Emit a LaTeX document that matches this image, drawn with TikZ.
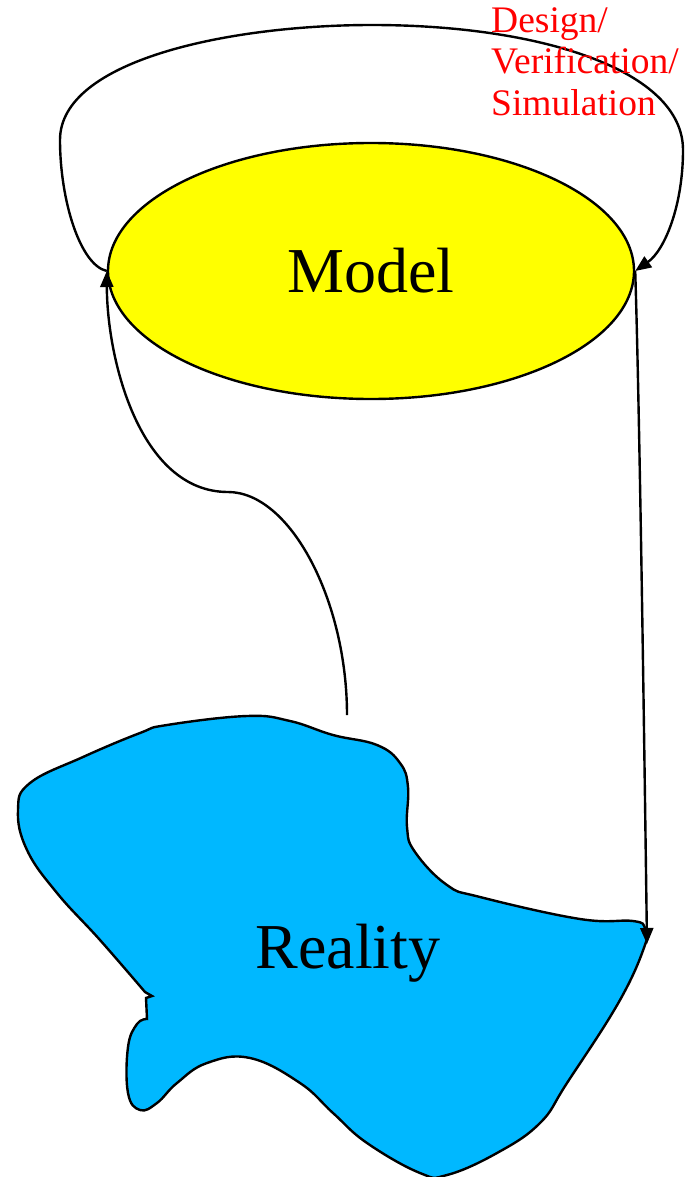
\documentclass[tikz,border=0pt]{standalone}
\usepackage{fontspec}
\setmainfont{Liberation Serif}
\usetikzlibrary{shapes.geometric,arrows.meta}
\definecolor{modelyellow}{RGB}{255,255,0}
\definecolor{realblue}{RGB}{0,184,255}
\begin{document}
\begin{tikzpicture}[x=1pt,y=-1pt,
  outline/.style={draw=black,line width=2.4pt},
  conn/.style={draw=black,line width=2.4pt,-{Triangle[length=16pt,width=13pt]}},
  bigtext/.style={font=\fontsize{64}{72}\selectfont},
  redtext/.style={text=red,font=\fontsize{37.5}{41.5}\selectfont,align=left,inner sep=0pt}]
\useasboundingbox (0,0) rectangle (686,1177);
% Reality blob
\path[outline,fill=realblue]
  plot[smooth,tension=0.7] coordinates {(147,1019) (137,1024) (128,1047) (128,1093) (140,1110) (157,1103) (177,1083) (207,1063) (250,1058) (300,1083) (333,1113) (367,1143) (420,1173) (447,1175) (497,1153) (540,1123) (567,1083) (620,1000) (646,942) (645,928) (633,921) (580,919) (480,897) (447,885) (415,852) (407,827) (408,787) (400,763) (377,745) (333,735) (290,721) (247,716) (167,725) (140,733) (83,757) (30,783) (18,810) (27,850) (57,893) (100,940) (145,992)}
  -- (152,996) -- (146,998) -- cycle;
\node[bigtext] (reality) at (348,953) {Reality};
% Model ellipse
\node[ellipse,outline,fill=modelyellow,minimum width=526pt,minimum height=256pt,inner sep=0pt,bigtext] (model) at (371,271) {Model};
% connectors
\coordinate (realtop) at (347,715);
\coordinate (realedge) at (647,944);
\draw[conn] (realtop) .. controls (347,600) and (290,492) .. (228,492)
  .. controls (140,492) and (107,360) .. (model.west);
\draw[conn] (model.west) .. controls (80,265) and (60,200) .. (60,140)
  .. controls (60,60) and (230,25) .. (372,25)
  .. controls (540,25) and (683,70) .. (683,150)
  .. controls (683,205) and (665,250) .. (model.east);
\draw[conn] (model.east) .. controls (640,420) and (645,800) .. (realedge);
% label
\node[redtext,anchor=north west] (label) at (491,7) {Design/\\Verification/\\Simulation};
\end{tikzpicture}
\end{document}
